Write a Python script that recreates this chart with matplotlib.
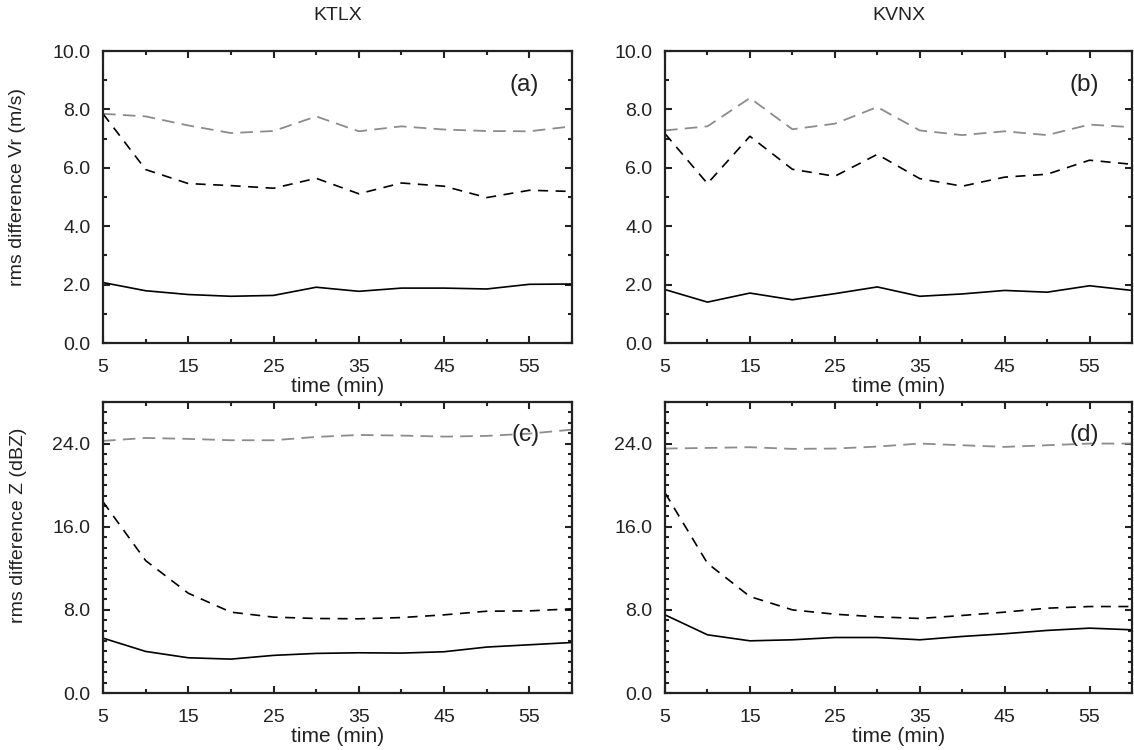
import matplotlib
matplotlib.use("Agg")
import matplotlib.pyplot as plt
from matplotlib.ticker import MultipleLocator, FixedLocator, FormatStrFormatter

plt.rcParams['font.family'] = ['Liberation Sans', 'DejaVu Sans']

time = [5, 10, 15, 20, 25, 30, 35, 40, 45, 50, 55, 60]

# Panel (a) KTLX Vr
a_gray = [7.85, 7.76, 7.45, 7.19, 7.26, 7.76, 7.25, 7.42, 7.31, 7.26, 7.25, 7.42]
a_dash = [7.85, 5.94, 5.46, 5.39, 5.30, 5.64, 5.11, 5.48, 5.37, 4.98, 5.23, 5.19]
a_solid = [2.07, 1.79, 1.66, 1.60, 1.63, 1.91, 1.77, 1.88, 1.88, 1.85, 2.01, 2.02]

# Panel (b) KVNX Vr
b_gray = [7.28, 7.42, 8.39, 7.32, 7.51, 8.08, 7.28, 7.12, 7.25, 7.12, 7.48, 7.39]
b_dash = [7.17, 5.46, 7.08, 5.95, 5.71, 6.46, 5.63, 5.37, 5.68, 5.78, 6.26, 6.12]
b_solid = [1.83, 1.40, 1.71, 1.48, 1.69, 1.92, 1.60, 1.68, 1.80, 1.74, 1.96, 1.80]

# Panel (c) KTLX Z
c_gray = [24.26, 24.54, 24.45, 24.32, 24.32, 24.64, 24.83, 24.77, 24.67, 24.74, 24.96, 25.34]
c_dash = [18.4, 12.74, 9.6, 7.78, 7.30, 7.17, 7.14, 7.26, 7.52, 7.87, 7.90, 8.10]
c_solid = [5.28, 4.0, 3.39, 3.26, 3.62, 3.81, 3.87, 3.84, 3.97, 4.42, 4.64, 4.86]

# Panel (d) KVNX Z
d_gray = [23.52, 23.58, 23.65, 23.49, 23.52, 23.71, 24.0, 23.84, 23.68, 23.84, 24.0, 24.0]
d_dash = [19.26, 12.48, 9.28, 8.0, 7.58, 7.33, 7.17, 7.46, 7.78, 8.16, 8.32, 8.32]
d_solid = [7.52, 5.6, 5.02, 5.12, 5.34, 5.34, 5.12, 5.44, 5.70, 6.02, 6.24, 6.08]

xticks = [5, 15, 25, 35, 45, 55]
titles = ["KTLX", "KVNX"]
panel_labels = ["(a)", "(b)", "(c)", "(d)"]
ylabels = ["rms difference Vr (m/s)", "rms difference Z (dBZ)"]

W, H = 1134, 750
fig = plt.figure(figsize=(W / 100, H / 100), dpi=100)

def box(l, r, t, b):
    return [l / W, 1 - b / H, (r - l) / W, (b - t) / H]

rects = [box(103, 572, 51, 343), box(665, 1132, 51, 343),
         box(103, 572, 402, 693), box(665, 1132, 402, 693)]
data = [(a_gray, a_dash, a_solid), (b_gray, b_dash, b_solid),
        (c_gray, c_dash, c_solid), (d_gray, d_dash, d_solid)]

FS = 14
for i, (rect, (g, dsh, s)) in enumerate(zip(rects, data)):
    ax = fig.add_axes(rect)
    ax.plot(time, g, color='#8c8c8c', lw=1.3, ls=(0, (7, 4)))
    ax.plot(time, dsh, color='black', lw=1.2, ls=(0, (6, 4.5)))
    ax.plot(time, s, color='black', lw=1.2)
    ax.set_xlim(5, 60)
    ax.xaxis.set_major_locator(FixedLocator(xticks))
    ax.xaxis.set_minor_locator(FixedLocator([10, 20, 30, 40, 50, 60]))
    if i < 2:
        ax.set_ylim(0, 10)
        ax.yaxis.set_major_locator(MultipleLocator(2))
        ax.yaxis.set_minor_locator(MultipleLocator(1))
    else:
        ax.set_ylim(0, 28)
        ax.yaxis.set_major_locator(MultipleLocator(8))
        ax.yaxis.set_minor_locator(MultipleLocator(1))
    ax.yaxis.set_major_formatter(FormatStrFormatter('%.1f'))
    ax.tick_params(which='both', direction='in', top=True, right=True,
                   labelsize=FS, width=1.5, colors='#222222', labelcolor='#222222')
    ax.tick_params(axis='y', which='both', pad=9)
    ax.tick_params(axis='x', which='both', pad=11.5)
    ax.tick_params(which='major', length=5)
    ax.tick_params(which='minor', length=2.8)
    for sp in ax.spines.values():
        sp.set_linewidth(1.6)
        sp.set_color('#222222')
    ax.set_xlabel("time (min)", fontsize=15, labelpad=1, color='#222222')
    ax.text(0.93, 0.885, panel_labels[i], transform=ax.transAxes,
            ha='right', va='center', fontsize=17.5, color='#222222')

fig.text(337.5 / W, 1 - 15 / H, titles[0], ha='center', va='center',
         fontsize=FS, color='#222222')
fig.text(898.5 / W, 1 - 15 / H, titles[1], ha='center', va='center',
         fontsize=FS, color='#222222')
fig.text(18 / W, 1 - 187 / H, ylabels[0], rotation=90, ha='center',
         va='center', fontsize=FS, color='#222222')
fig.text(19 / W, 1 - 525 / H, ylabels[1], rotation=90, ha='center',
         va='center', fontsize=FS, color='#222222')

fig.savefig("out.png", dpi=100)
